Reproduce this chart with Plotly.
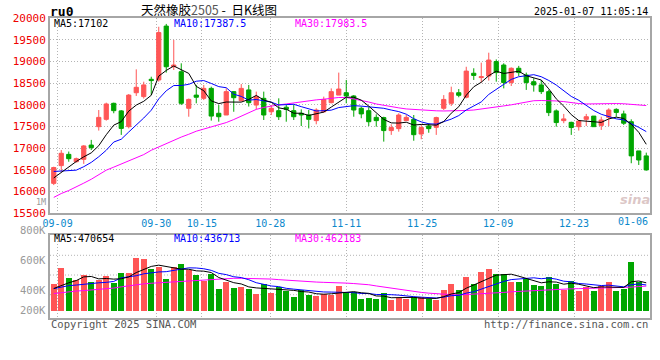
import plotly.graph_objects as go

W, H = 660, 360

# ---------------- data ----------------
OPEN = [16185, 16595, 16855, 16685, 16740, 17070, 17495, 17665, 18035, 17860,
        17495, 18280, 18190, 18590, 18575, 19820, 18880, 18765, 17920, 18225,
        18150, 18380, 17805, 17765, 18305, 18095, 18345, 17995, 18150, 17840,
        17865, 17945, 17865, 17805, 17765, 17635, 17840, 18050, 18225, 18280,
        18205, 17920, 17865, 17710, 17705, 17405, 17450, 17635, 17665, 17325,
        17510, 17480, 17920, 18035, 18280, 18175, 18730, 18630, 18665, 19000,
        18920, 18515, 18845, 18690, 18535, 18460, 18305, 17860, 17635, 17595,
        17495, 17665, 17740, 17525, 17710, 17895, 17790, 17610, 16935, 16820]
HIGH = [16570, 16955, 16920, 16780, 17070, 17190, 17880, 18050, 18050, 17880,
        18250, 18820, 18535, 18650, 19805, 19870, 19500, 18960, 18145, 18460,
        18460, 18420, 17995, 18380, 18320, 18480, 18460, 18305, 18305, 17995,
        18150, 17995, 17995, 17895, 17880, 17920, 18190, 18380, 18745, 18575,
        18225, 17960, 17945, 17780, 17725, 17550, 17805, 17765, 17765, 17550,
        17575, 17725, 18225, 18420, 18365, 18880, 18845, 18975, 19205, 19050,
        18960, 18865, 18900, 18745, 18615, 18575, 18345, 17895, 17790, 17610,
        17650, 17790, 17740, 17725, 17920, 17920, 17865, 17665, 16935, 16895]
LOW = [16145, 16455, 16685, 16665, 16635, 16955, 17405, 17635, 17805, 17305,
       17455, 18205, 18145, 18225, 18535, 18745, 18805, 17995, 17725, 18035,
       18110, 17635, 17610, 17765, 17840, 18075, 17960, 17895, 17650, 17765,
       17650, 17610, 17650, 17510, 17455, 17550, 17820, 18035, 18225, 18035,
       17725, 17690, 17510, 17495, 17150, 17305, 17380, 17635, 17170, 17205,
       17355, 17305, 17880, 17975, 18175, 18150, 18575, 18515, 18560, 18535,
       18380, 18435, 18665, 18345, 18305, 18250, 17740, 17495, 17575, 17305,
       17405, 17510, 17495, 17420, 17510, 17725, 17535, 16650, 16610, 16480]
CLOSE = [16550, 16880, 16755, 16755, 17050, 17010, 17710, 18020, 17865, 17455,
         18225, 18405, 18460, 18560, 19670, 18880, 18920, 18035, 18125, 18175,
         18380, 17740, 17725, 18305, 18165, 18380, 18050, 18190, 17765, 17920,
         17725, 17895, 17725, 17765, 17665, 17880, 18125, 18305, 18365, 18205,
         17880, 17790, 17610, 17635, 17405, 17475, 17765, 17710, 17310, 17475,
         17450, 17705, 18125, 18280, 18220, 18780, 18680, 18650, 19035, 18745,
         18515, 18845, 18745, 18515, 18460, 18305, 17820, 17590, 17675, 17475,
         17625, 17725, 17495, 17650, 17880, 17825, 17575, 16820, 16725, 16495]
VOLUME = [442000, 549000, 482000, 473000, 502000, 455000, 469000, 495000, 451000, 515000,
          515000, 615000, 609000, 542000, 557000, 475000, 555000, 575000, 540000, 504000,
          464000, 509000, 409000, 457000, 415000, 422000, 411000, 375000, 442000, 384000,
          422000, 395000, 355000, 402000, 369000, 364000, 380000, 369000, 429000, 389000,
          389000, 342000, 349000, 342000, 384000, 335000, 349000, 342000, 355000, 355000,
          342000, 335000, 402000, 442000, 402000, 489000, 442000, 522000, 542000, 509000,
          509000, 455000, 455000, 475000, 435000, 429000, 489000, 447000, 404000, 467000,
          395000, 422000, 400000, 429000, 460000, 395000, 411000, 589000, 455000, 400000]

# moving-average values at the start of the window (need days before the chart)
MA5_HEAD = [16310, 16440, 16570, 16690]
MA10_HEAD = [16460, 16465, 16470, 16490, 16570, 16670, 16800, 16950, 17140]
MA30 = [15860, 15950, 16020, 16100, 16190, 16280, 16380, 16490, 16560, 16630,
        16700, 16765, 16850, 16950, 17030, 17110, 17185, 17255, 17320, 17390,
        17440, 17490, 17535, 17590, 17660, 17740, 17820, 17895, 17940, 17975,
        18000, 18020, 18045, 18075, 18100, 18115, 18130, 18150, 18170, 18170,
        18140, 18105, 18065, 18020, 17985, 17955, 17930, 17905, 17890, 17880,
        17870, 17862, 17858, 17857, 17860, 17870, 17880, 17900, 17920, 17950,
        17975, 18000, 18030, 18065, 18095, 18100, 18098, 18090, 18075, 18050,
        18030, 18020, 18025, 18033, 18035, 18030, 18025, 18015, 17995, 17983.5]
VOL_MA5_HEAD = [412000, 432000, 450000, 465000]
VOL_MA10_HEAD = [411000, 421000, 431000, 435000, 441000, 445000, 450000, 453000, 459000]
VOL_MA30 = [378000, 385000, 391000, 395000, 398000, 401000, 405000, 410000, 415000, 423000,
            431000, 438000, 443000, 447000, 450000, 454000, 459000, 463000, 465000, 467000,
            468000, 471000, 474000, 477000, 480000, 480000, 480000, 480000, 479000, 475000,
            471000, 467000, 464000, 461000, 458000, 455000, 453000, 453000, 451000, 448000,
            445000, 443000, 437000, 429000, 421000, 414000, 407000, 399000, 393000, 386000,
            381000, 376000, 373000, 371000, 369000, 371000, 375000, 378000, 381000, 384000,
            386000, 390000, 393000, 397000, 399000, 401000, 404000, 406000, 409000, 410000,
            411000, 412000, 413000, 415000, 416000, 417000, 419000, 421000, 425000, 428000]

TICK_INDEX = [1, 14, 20, 29, 39, 49, 59, 69]
TICK_LABELS = ["09-09", "09-30", "10-15", "10-28", "11-11", "11-25", "12-09", "12-23"]
LAST_LABEL = "01-06"
PRICE_TICKS = [15500, 16000, 16500, 17000, 17500, 18000, 18500, 19000, 19500, 20000]
VOL_TICK_LABELS = ["800K", "600K", "400K", "200K"]

MA_PRICE_TEXT = ["MA5:17102", "MA10:17387.5", "MA30:17983.5"]
MA_VOL_TEXT = ["MA5:470654", "MA10:436713", "MA30:462183"]

# ---------------- helpers ----------------
def rolling(values, n, head):
    out = list(head)
    for i in range(len(head), len(values)):
        out.append(sum(values[i - n + 1:i + 1]) / n)
    return out

N = len(CLOSE)
X = list(range(N))
MA5 = rolling(CLOSE, 5, MA5_HEAD)
MA10 = rolling(CLOSE, 10, MA10_HEAD)
VMA5 = rolling(VOLUME, 5, VOL_MA5_HEAD)
VMA10 = rolling(VOLUME, 10, VOL_MA10_HEAD)

RED = "#ff5656"
GREEN = "#00a600"
GRID = "#b4b4b4"
FRAME = "#a6a6a6"
MONO = "DejaVu Sans Mono"
CJK = "Noto Sans CJK SC"

# layout geometry in pixels
PL, PR = 50, 650
MAIN_T, MAIN_B = 18.3, 213
VOL_T, VOL_B = 234.7, 318
VOL_BASE = 262000          # value at the bar baseline
VOL_BASE_Y = 311           # pixel of the bar baseline
VOL_PX = 0.00015           # pixels per lot
vol_lo = VOL_BASE - (VOL_B - VOL_BASE_Y) / VOL_PX
vol_hi = VOL_BASE + (VOL_BASE_Y - VOL_T) / VOL_PX

def py(y):
    return 1 - y / H

def px(x):
    return x / W

grid_x = [i * N / (N - 1) - 0.5 for i in TICK_INDEX]

fig = go.Figure()

fig.add_trace(go.Candlestick(
    x=X, open=OPEN, high=HIGH, low=LOW, close=CLOSE,
    increasing=dict(line=dict(color=RED, width=1), fillcolor=RED),
    decreasing=dict(line=dict(color=GREEN, width=1), fillcolor=GREEN),
    whiskerwidth=0, hoverinfo="skip", xaxis="x", yaxis="y"))

for ys, col in [(MA30, "#ff00ff"), (MA10, "#0000ff"), (MA5, "#000000")]:
    fig.add_trace(go.Scatter(x=X, y=ys, mode="lines", line=dict(color=col, width=1),
                             hoverinfo="skip", xaxis="x", yaxis="y"))

bar_colors = [RED if c >= o else GREEN for o, c in zip(OPEN, CLOSE)]
fig.add_trace(go.Bar(x=X, y=[v - VOL_BASE for v in VOLUME], base=VOL_BASE,
                     marker=dict(color=bar_colors, line=dict(width=0)), width=0.78,
                     hoverinfo="skip", xaxis="x2", yaxis="y2"))
for ys, col in [(VOL_MA30, "#ff00ff"), (VMA10, "#0000ff"), (VMA5, "#000000")]:
    fig.add_trace(go.Scatter(x=X, y=ys, mode="lines", line=dict(color=col, width=1),
                             hoverinfo="skip", xaxis="x2", yaxis="y2"))

dash = "1px,2px"
common_x = dict(range=[-0.5, N - 0.5], domain=[px(PL), px(PR)], tickvals=grid_x,
                showgrid=True, gridcolor=GRID, griddash=dash, gridwidth=1,
                showline=True, linecolor=FRAME, linewidth=2, mirror=True,
                ticks="", zeroline=False, fixedrange=True, automargin=False)

fig.update_layout(
    width=W, height=H, margin=dict(l=0, r=0, t=0, b=0, autoexpand=False),
    paper_bgcolor="white", plot_bgcolor="white", showlegend=False,
    font=dict(family=MONO, size=10, color="#000"),
    bargap=0, boxgap=0.2,
    xaxis=dict(**common_x, anchor="y", ticktext=TICK_LABELS,
               tickfont=dict(family=MONO, size=10, color="#0a88cc"),
               rangeslider=dict(visible=False)),
    yaxis=dict(domain=[py(MAIN_B), py(MAIN_T)], range=[PRICE_TICKS[0], PRICE_TICKS[-1]],
               tickvals=PRICE_TICKS, ticktext=[str(v) for v in PRICE_TICKS],
               tickfont=dict(family=MONO, size=11, color="#ee0000"),
               showgrid=True, gridcolor=GRID, griddash=dash, gridwidth=1,
               showline=True, linecolor=FRAME, linewidth=2, mirror=True,
               ticks="", zeroline=False, anchor="x", fixedrange=True, automargin=False),
    xaxis2=dict(**common_x, anchor="y2", showticklabels=False),
    yaxis2=dict(domain=[py(VOL_B), py(VOL_T)], range=[vol_lo, vol_hi],
                showgrid=False, showticklabels=False,
                showline=True, linecolor=FRAME, linewidth=2, mirror=True,
                ticks="", zeroline=False, anchor="x2", fixedrange=True, automargin=False),
)

# horizontal grid of the volume panel
for gy in [255.3, 275.0, 294.7]:
    fig.add_shape(type="line", xref="paper", yref="paper", x0=px(PL), x1=px(PR),
                  y0=py(gy), y1=py(gy), line=dict(color=GRID, width=1, dash=dash),
                  layer="below")

def note(x, y, s, color="#000", size=10, anchor="left", family=MONO):
    fig.add_annotation(x=px(x), y=py(y), xref="paper", yref="paper", text=s,
                       showarrow=False, xanchor=anchor, yanchor="middle", borderpad=0,
                       font=dict(family=family, size=size, color=color))

note(49, 11.5, "<b>ru0</b>", size=13)
note(140, 9.5, "天然橡胶<span style='color:#555'>2505</span> -&nbsp;&nbsp;日K线图",
     size=12.5, anchor="left", family=CJK)
note(649, 11.5, "2025-01-07 11:05:14", size=10, anchor="right")

ma_cols = ["#000000", "#0000ff", "#ff00ff"]
for xx, t, c in zip([53, 173, 294], MA_PRICE_TEXT, ma_cols):
    note(xx, 24, t, color=c, size=10)
for xx, t, c in zip([53, 173, 294], MA_VOL_TEXT, ma_cols):
    note(xx, 238.5, t, color=c, size=10)

for yy, t in zip([230.3, 260.3, 290.3, 310.3], VOL_TICK_LABELS):
    note(47, yy, t, color="#999", size=10.5, anchor="right")
note(47, 201.5, "1M", color="#999", size=8.5, anchor="right")

note(649, 221.5, LAST_LABEL, color="#0a88cc", size=10, anchor="right")
note(50, 323.5, "Copyright 2025 SINA.COM", color="#555", size=10.5)
note(649, 323.5, "http://finance.sina.com.cn", color="#555", size=10.5, anchor="right")
note(635, 199, "<b><i>sina</i></b>", color="rgba(190,150,150,0.55)", size=13,
     anchor="center", family="DejaVu Sans")

fig.write_html("out.html", config={"displayModeBar": False},
               post_script="document.body.style.margin='0px';")
